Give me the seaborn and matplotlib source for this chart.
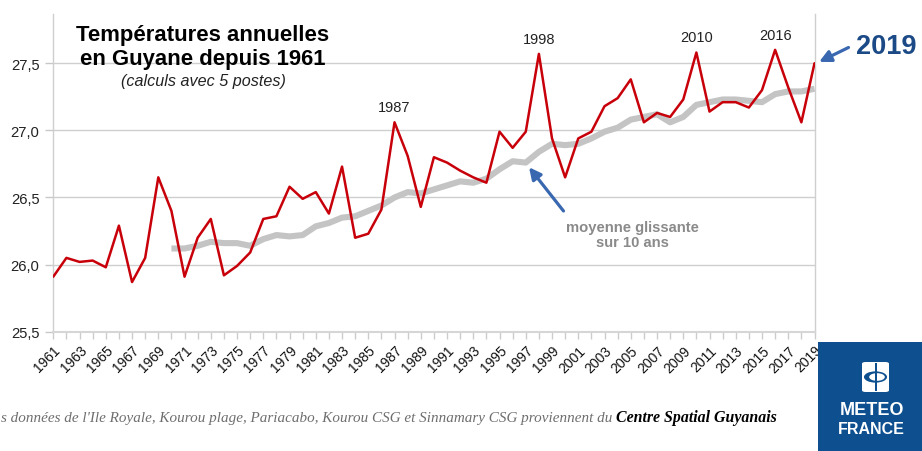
import numpy as np
import pandas as pd
import matplotlib
matplotlib.use("Agg")
import matplotlib.pyplot as plt
import seaborn as sns
from matplotlib.patches import Rectangle, FancyBboxPatch, Circle

# ---------------- data ----------------
years = list(range(1961, 2020))
temperature = [25.91, 26.05, 26.02, 26.03, 25.98, 26.29, 25.87, 26.05, 26.65, 26.40,
               25.91, 26.20, 26.34, 25.92, 25.99, 26.09, 26.34, 26.36, 26.58, 26.49,
               26.54, 26.38, 26.73, 26.20, 26.23, 26.41, 27.06, 26.81, 26.43, 26.80,
               26.76, 26.70, 26.65, 26.61, 26.99, 26.87, 26.99, 27.57, 26.94, 26.65,
               26.94, 26.99, 27.18, 27.24, 27.38, 27.06, 27.13, 27.10, 27.23, 27.58,
               27.14, 27.21, 27.21, 27.17, 27.30, 27.60, 27.32, 27.06, 27.50]
ma_years = list(range(1970, 2020))
moving_avg = [26.12, 26.12, 26.14, 26.17, 26.16, 26.16, 26.14, 26.19, 26.22, 26.21,
              26.22, 26.285, 26.31, 26.35, 26.36, 26.40, 26.44, 26.50, 26.54, 26.53,
              26.56, 26.59, 26.62, 26.61, 26.64, 26.71, 26.77, 26.76, 26.84, 26.90,
              26.89, 26.90, 26.94, 26.99, 27.02, 27.08, 27.10, 27.12, 27.06, 27.10,
              27.19, 27.21, 27.23, 27.23, 27.22, 27.21, 27.27, 27.29, 27.29, 27.31]
labelled_peaks = [1987, 1998, 2010, 2016]
y_ticks = [25.5, 26.0, 26.5, 27.0, 27.5]
x_tick_labels = [str(y) for y in range(1961, 2020, 2)]

df = pd.DataFrame({"annee": years, "temp": temperature})
dfm = pd.DataFrame({"annee": ma_years, "moy": moving_avg})

# ---------------- style ----------------
sns.set_style("white")
plt.rcParams["font.family"] = ["Liberation Sans", "DejaVu Sans"]

W, H = 922, 452
fig = plt.figure(figsize=(W / 100, H / 100), dpi=100)
fig.patch.set_facecolor("white")

def fx(x):
    return x / W

def fy(y):
    return 1 - y / H

ax = fig.add_axes([fx(53.3), fy(332.7), fx(814.5) - fx(53.3), fy(15) - fy(332.7)])

sns.lineplot(data=dfm, x="annee", y="moy", ax=ax, color="#c4c4c4", linewidth=4.4,
             solid_capstyle="butt", zorder=3)
sns.lineplot(data=df, x="annee", y="temp", ax=ax, color="#c8000a", linewidth=1.8,
             zorder=4)

ax.set_xlim(1961, 2019)
ax.set_ylim(25.5, 27.867)
ax.set_xlabel("")
ax.set_ylabel("")

ax.set_yticks(y_ticks)
ax.set_yticklabels([f"{v:.1f}".replace(".", ",") for v in y_ticks],
                   fontsize=10.6, color="#222222")
ax.set_xticks(list(range(1961, 2020, 2)))
ax.set_xticks(years, minor=True)
ax.set_xticklabels(x_tick_labels, rotation=45, ha="right", va="top",
                   rotation_mode="anchor", fontsize=10, color="#111111")

ax.tick_params(axis="y", length=6, width=1, color="#c8c8c8", pad=4, left=True)
ax.tick_params(axis="x", which="both", length=5, width=1, color="#cccccc",
               bottom=True, pad=3)
ax.yaxis.grid(True, color="#cfcfcf", linewidth=1)
ax.xaxis.grid(False)
for s in ["left", "right"]:
    ax.spines[s].set_color("#cfcfcf")
    ax.spines[s].set_linewidth(1)
ax.spines["bottom"].set_color("#d6d6d6")
ax.spines["bottom"].set_linewidth(1.5)
ax.spines["top"].set_visible(False)

# peak labels
temp_of = dict(zip(years, temperature))
for yr in labelled_peaks:
    ax.annotate(str(yr), xy=(yr, temp_of[yr]), xytext=(0, 6),
                textcoords="offset points", ha="center", va="bottom",
                fontsize=10.5, color="#222222")

# title
fig.text(fx(203), fy(35), "Températures annuelles", ha="center", va="center",
         fontsize=15.9, fontweight="bold", color="#000000")
fig.text(fx(203), fy(60), "en Guyane depuis 1961", ha="center", va="center",
         fontsize=15.9, fontweight="bold", color="#000000")
fig.text(fx(203), fy(82), "(calculs avec 5 postes)", ha="center", va="center",
         fontsize=11.6, style="italic", color="#222222")

# moving average annotation
fig.text(fx(632), fy(228), "moyenne glissante", ha="center", va="center",
         fontsize=10.6, fontweight="bold", color="#8a8a8a")
fig.text(fx(632), fy(243), "sur 10 ans", ha="center", va="center",
         fontsize=10.6, fontweight="bold", color="#8a8a8a")
ax.annotate("", xy=(1997.25, 26.725), xycoords="data",
            xytext=(fx(563.5), fy(212)), textcoords="figure fraction",
            arrowprops=dict(arrowstyle="-|>,head_length=0.7,head_width=0.35",
                            color="#3a68b0", lw=2.3, shrinkA=0, shrinkB=0),
            annotation_clip=False)

# 2019 annotation
fig.text(fx(886), fy(47), "2019", ha="center", va="center", fontsize=19.5,
         fontweight="bold", color="#1b4a86")
ax.annotate("", xy=(2019.35, 27.51), xycoords="data",
            xytext=(fx(848.5), fy(48.5)), textcoords="figure fraction",
            arrowprops=dict(arrowstyle="-|>,head_length=0.7,head_width=0.35",
                            color="#3a68b0", lw=2.3, shrinkA=0, shrinkB=0),
            annotation_clip=False)

# footer source text
renderer = fig.canvas.get_renderer()
t1 = fig.text(fx(1), fy(422), "s données de l'Ile Royale, Kourou plage, Pariacabo, Kourou CSG et Sinnamary CSG proviennent du ",
              ha="left", va="baseline", fontsize=10.9, style="italic",
              family="Liberation Serif", color="#6e6e6e")
bb = t1.get_window_extent(renderer=renderer)
fig.text(bb.x1 / (fig.dpi * fig.get_figwidth()), fy(422), "Centre Spatial Guyanais",
         ha="left", va="baseline", fontsize=11.4, style="italic", fontweight="bold",
         family="Liberation Serif", color="#000000")

# Meteo-France logo
logo_blue = "#0d4f8f"
fig.patches.append(Rectangle((fx(818), fy(452)), fx(922) - fx(818), fy(343) - fy(452),
                             transform=fig.transFigure, facecolor=logo_blue,
                             edgecolor="none", zorder=1))
fig.patches.append(FancyBboxPatch((fx(862), fy(393)), fx(27), fy(363) - fy(393),
                                  boxstyle="round,pad=0,rounding_size=0.004",
                                  transform=fig.transFigure, facecolor="white",
                                  edgecolor="none", zorder=2))
fig.patches.append(Circle((fx(875.5), fy(378)), 0.0125, transform=fig.transFigure,
                          facecolor=logo_blue, edgecolor="none", zorder=3))
fig.patches.append(Circle((fx(877), fy(378)), 0.0085, transform=fig.transFigure,
                          facecolor="white", edgecolor="none", zorder=4))
fig.patches.append(Rectangle((fx(874.5), fy(392)), fx(2.2), fy(364) - fy(392),
                             transform=fig.transFigure, facecolor=logo_blue,
                             edgecolor="none", zorder=5))
fig.text(fx(871.5), fy(411), "METEO", ha="center", va="center", fontsize=13,
         fontweight="bold", color="white", family="Liberation Sans")
fig.text(fx(871.5), fy(430), "FRANCE", ha="center", va="center", fontsize=11.5,
         fontweight="bold", color="white", family="Liberation Sans")

fig.savefig("out.png", dpi=100, facecolor="white")
